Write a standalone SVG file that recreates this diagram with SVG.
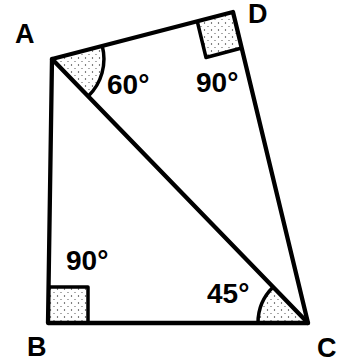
<svg xmlns="http://www.w3.org/2000/svg" width="345" height="363" viewBox="0 0 345 363">
<defs>
<pattern id="stip" width="7" height="7" patternUnits="userSpaceOnUse">
<circle cx="1.5" cy="2" r="0.7" fill="#333"/>
<circle cx="5" cy="5.5" r="0.6" fill="#444"/>
</pattern>
</defs>
<style>
.edge{fill:none;stroke:#000;stroke-width:4.3;stroke-linecap:round;stroke-linejoin:round}
.mark{fill:url(#stip);stroke:none}
.mk{fill:none;stroke:#000;stroke-width:3.5;stroke-linejoin:round}
.lbl{font-family:"Liberation Sans",Arial,sans-serif;font-weight:bold;font-size:27px;fill:#000}
.ang{font-family:"Liberation Sans",Arial,sans-serif;font-weight:bold;font-size:28px;fill:#000}
</style>
<rect width="345" height="363" fill="#fff"/>
<g id="marks">
<path class="mark" d="M48,287 H88 V323 H48 Z"/>
<path class="mk" d="M48,287 H88 V323"/>
<path class="mark" d="M233,12 L197.3,21.5 L206,57.5 L241.7,48 Z"/>
<path class="mk" d="M197.3,21.5 L206,57.5 L241.7,48"/>
<path class="mark" d="M52,59 L102.2,45.7 A52,52 0 0 1 88.2,96.3 Z"/>
<path class="mk" d="M102.2,45.7 A52,52 0 0 1 88.2,96.3"/>
<path class="mark" d="M308,323 L258,323 A50,50 0 0 1 273.2,287.1 Z"/>
<path class="mk" d="M258,323 A50,50 0 0 1 273.2,287.1"/>
</g>
<g id="connectors">
<path class="edge" d="M52,59 L233,12 L308,323 L48,323 Z"/>
<path class="edge" d="M52,59 L308,323"/>
</g>
<g id="A"><text class="lbl" x="15" y="43">A</text></g>
<g id="B"><text class="lbl" x="27" y="356">B</text></g>
<g id="C"><text class="lbl" x="317" y="357">C</text></g>
<g id="D"><text class="lbl" x="248" y="23">D</text></g>
<g id="labels">
<text class="ang" x="107" y="94">60°</text>
<text class="ang" x="196" y="92">90°</text>
<text class="ang" x="66" y="270">90°</text>
<text class="ang" x="207" y="303">45°</text>
</g>
</svg>
